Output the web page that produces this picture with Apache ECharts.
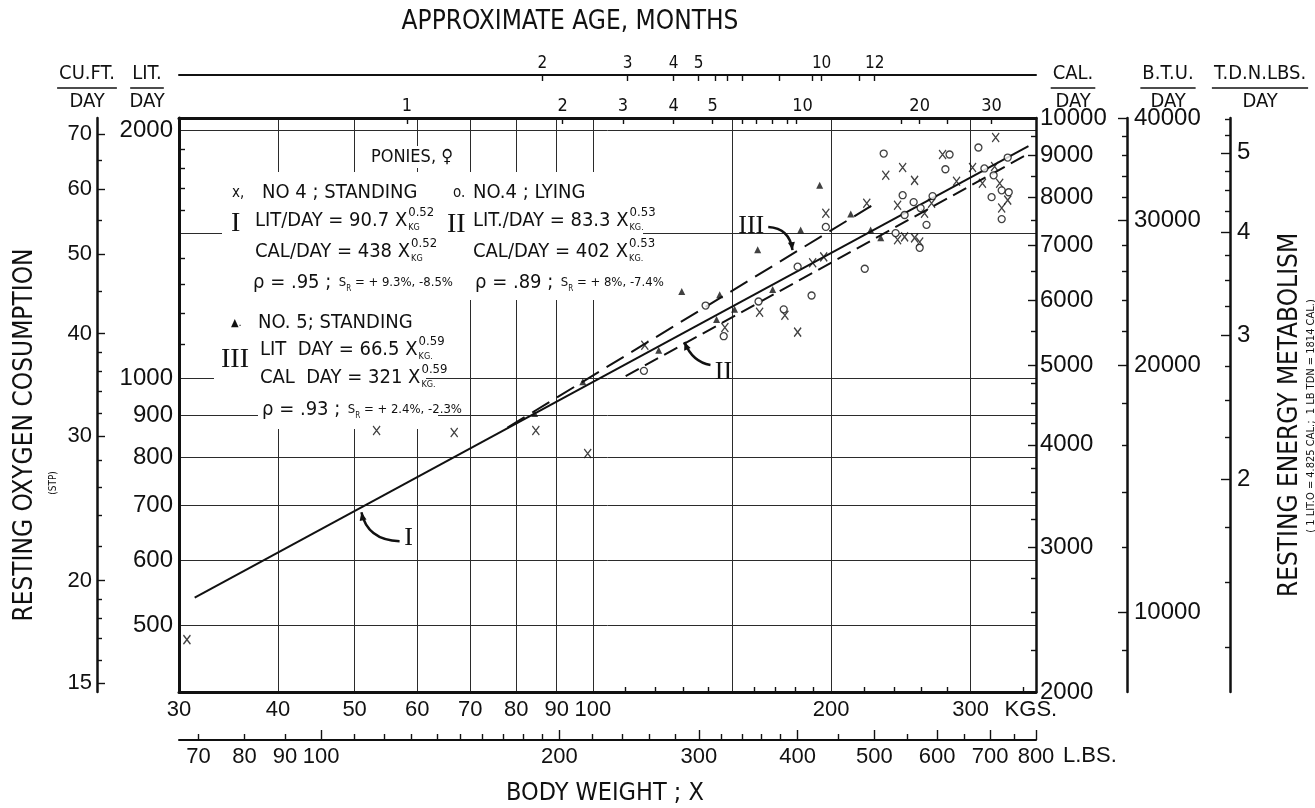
<!DOCTYPE html>
<html>
<head>
<meta charset="utf-8">
<title>Resting oxygen consumption of ponies</title>
<script src="https://cdn.jsdelivr.net/npm/echarts@6/dist/echarts.min.js"></script>
<style>
  html, body { margin: 0; padding: 0; background: #fff; }
  #main { width: 1315px; height: 808px; }
</style>
</head>
<body>
<div id="main"></div>
<script>
var chart = echarts.init(document.getElementById('main'));

var INK = '#111';
var FONT = '"Liberation Sans Narrow", "DejaVu Sans Condensed", "Liberation Sans", sans-serif';
var NUMFONT = '"Liberation Sans", "DejaVu Sans", sans-serif';
var SERIF = '"Liberation Serif", "DejaVu Serif", serif';

// ---- data: [body weight kg, litres O2 / day] ----
var no4Standing = [
  [30.7, 480], [53.3, 863], [66.8, 858], [84.7, 863], [98.5, 809], [116.3, 1096],
  [146.8, 1152], [162.4, 1202], [174.8, 1192], [181.4, 1137], [189.5, 1381], [195.7, 1404],
  [196.9, 1587], [221.8, 1632], [234.4, 1765], [242.6, 1473], [242.6, 1623], [246.2, 1804],
  [247.6, 1485], [254.9, 1740], [254.9, 1481], [258.7, 1464], [262.4, 1587], [267.8, 1632],
  [276.5, 1871], [288.0, 1736], [301.7, 1804], [310.5, 1726], [321.7, 1809], [322.7, 1962],
  [326.5, 1726], [328.4, 1610], [334.2, 1646]
];
var no4Lying = [
  [116.0, 1020], [138.8, 1225], [146.3, 1124], [161.9, 1239], [174.2, 1212], [181.4, 1366],
  [188.9, 1260], [196.9, 1527], [220.5, 1358], [233.0, 1876], [241.2, 1501], [246.2, 1669],
  [247.6, 1579], [254.2, 1637], [258.7, 1440], [259.4, 1610], [263.9, 1536], [268.6, 1665],
  [278.8, 1795], [282.2, 1871], [306.9, 1908], [312.3, 1799], [318.9, 1660], [320.8, 1765],
  [328.4, 1692], [328.4, 1561], [334.2, 1855], [335.2, 1683]
];
var no5Standing = [
  [84.4, 905], [97.1, 989], [121.1, 1081], [129.5, 1274], [143.3, 1178], [144.6, 1263],
  [151.0, 1212], [161.5, 1432], [168.7, 1281], [183.0, 1514], [193.4, 1716], [211.7, 1583],
  [224.3, 1514], [231.0, 1481]
];
// fitted lines, end points
var lineI = [[31.4, 540], [355, 1915]];
var lineII = [[110, 1005], [355, 1875]];
var lineIII = [[78, 870], [226, 1625]];

// ---- axes ----
var kgRange = [30, 362.87];
var litRange = [414.5, 2072.5];
var kgGrid = [40, 50, 60, 70, 80, 90, 100, 150, 200, 300];
var kgLabels = [30, 40, 50, 60, 70, 80, 90, 100, 200, 300];
var kgMinor = [110, 120, 130, 140, 160, 170, 180, 190, 220, 240, 260, 280, 350];
var lbsRange = [66.14, 800];
var lbsMajor = [100, 200, 300, 400, 500, 600, 700, 800];
var lbsMinor = [70, 80, 90, 110, 120, 130, 140, 150, 160, 170, 180, 190, 220, 240, 260, 280,
  320, 340, 360, 380, 450, 550, 650, 750];
var lbsLabels = [70, 80, 90, 100, 200, 300, 400, 500, 600, 700, 800];
var litGrid = [500, 600, 700, 800, 900, 1000, 1500, 2000];
var litLabels = [500, 600, 700, 800, 900, 1000, 2000];
var litMinor = [1100, 1200, 1300, 1400, 1600, 1700, 1800, 1900];
var cuRange = [14.638, 73.19];
var cuMajor = [15, 20, 30, 40, 50, 60, 70];
var cuMinor = [16, 17, 18, 19, 22, 24, 26, 28, 32, 34, 36, 38, 45, 55, 65];
var calRange = [2000, 10000];
var calMajor = [2000, 3000, 4000, 5000, 6000, 7000, 8000, 9000, 10000];
var calMinor = [2250, 2500, 2750, 3250, 3500, 3750, 4250, 4500, 4750, 5500, 6500, 7500, 8500, 9500];
var btuRange = [8000, 40000];
var btuMajor = [10000, 20000, 30000, 40000];
var btuMinor = [9000, 12000, 14000, 16000, 18000, 22000, 24000, 26000, 28000, 32000, 34000, 36000, 38000];
var tdnRange = [1.1025, 5.5127];
var tdnMajor = [2, 3, 4, 5];
var tdnMinor = [1.25, 1.5, 1.75, 2.25, 2.5, 2.75, 3.25, 3.5, 3.75, 4.25, 4.5, 4.75, 5.25, 5.5];
// approximate age scales, placed at body weight (kg)
var upperAgeTickKg = [86.3, 110.6, 126.5, 136.0, 142.6, 148.0, 154.6, 172.2, 189.5, 194.5, 217.2, 227.0];
var upperAgeLabelKg = [86.3, 110.6, 126.5, 136.0, 194.5, 227.0];
var upperAgeLabels = ['2', '3', '4', '5', '10', '12'];
var lowerAgeTickKg = [58.2, 91.6, 109.1, 126.5, 141.7, 154.2, 161.0, 168.7, 176.2, 180.9, 245.5, 258.7, 280.6, 318.9];
var lowerAgeLabelKg = [58.2, 91.6, 109.1, 126.5, 141.7, 184.0, 258.7, 318.9];
var lowerAgeLabels = ['1', '2', '3', '4', '5', '10', '20', '30'];

function lookup(keys, names) {
  return function (v) {
    for (var i = 0; i < keys.length; i++) {
      if (Math.abs(v - keys[i]) < 0.05) return names[i];
    }
    return '';
  };
}
function plain(v) { return String(Math.round(v * 100) / 100); }

function logAxis(o) {
  return {
    type: 'log', logBase: 10, min: o.range[0], max: o.range[1],
    position: o.pos, offset: o.offset || 0,
    axisLine: {show: !!o.lw, onZero: false, lineStyle: {color: INK, width: o.lw || 1}},
    axisTick: {show: !!o.len, inside: true, length: o.len || 0, customValues: o.ticks,
      lineStyle: {color: INK, width: 1.4}},
    splitLine: {show: !!o.split, lineStyle: {color: '#2b2b2b', width: 1}},
    minorTick: {show: false}, minorSplitLine: {show: false},
    axisLabel: {show: !!o.labels, customValues: o.labels, margin: o.margin || 6,
      fontFamily: o.font || NUMFONT, fontSize: o.fs || 22, color: INK,
      formatter: o.fmt || plain},
    axisPointer: {show: false}, silent: true
  };
}

var option = {
  animation: false,
  backgroundColor: '#fff',
  grid: {left: 179, right: 279, top: 118, bottom: 116, containLabel: false},
  xAxis: [
    logAxis({range: kgRange, pos: 'bottom', lw: 3, ticks: kgGrid, split: true, labels: kgLabels, margin: 7, fs: 22}),
    logAxis({range: kgRange, pos: 'bottom', ticks: kgMinor, len: 5}),
    logAxis({range: lbsRange, pos: 'bottom', offset: 48, lw: 2, ticks: lbsMajor, len: 10, labels: lbsLabels, margin: 6, fs: 22}),
    logAxis({range: lbsRange, pos: 'bottom', offset: 48, ticks: lbsMinor, len: 6}),
    logAxis({range: kgRange, pos: 'top', lw: 3, ticks: lowerAgeTickKg, len: 6, labels: lowerAgeLabelKg,
      fmt: lookup(lowerAgeLabelKg, lowerAgeLabels), margin: 3, fs: 18, font: FONT}),
    logAxis({range: kgRange, pos: 'top', offset: 43, lw: 2, ticks: upperAgeTickKg, len: 6, labels: upperAgeLabelKg,
      fmt: lookup(upperAgeLabelKg, upperAgeLabels), margin: 3, fs: 17, font: FONT})
  ],
  yAxis: [
    logAxis({range: litRange, pos: 'left', lw: 3, ticks: litGrid, split: true, labels: litLabels, margin: 6, fs: 24}),
    logAxis({range: litRange, pos: 'left', ticks: litMinor, len: 6}),
    logAxis({range: cuRange, pos: 'left', offset: 82, lw: 2.5, ticks: cuMajor, len: 8, labels: cuMajor, margin: 5, fs: 22}),
    logAxis({range: cuRange, pos: 'left', offset: 82, ticks: cuMinor, len: 5}),
    logAxis({range: calRange, pos: 'right', lw: 2.5, ticks: calMajor, len: 8, labels: calMajor, margin: 4, fs: 24}),
    logAxis({range: calRange, pos: 'right', ticks: calMinor, len: 5}),
    logAxis({range: btuRange, pos: 'right', offset: 91, lw: 2.5, ticks: btuMajor, len: 9, labels: btuMajor, margin: 7, fs: 24}),
    logAxis({range: btuRange, pos: 'right', offset: 91, ticks: btuMinor, len: 5}),
    logAxis({range: tdnRange, pos: 'right', offset: 194, lw: 2.5, ticks: tdnMajor, len: 9, labels: tdnMajor, margin: 7, fs: 24}),
    logAxis({range: tdnRange, pos: 'right', offset: 194, ticks: tdnMinor, len: 5})
  ],
  series: [
    {name: 'I', type: 'line', data: lineI, showSymbol: false, z: 20, silent: true,
      lineStyle: {color: INK, width: 2}},
    {name: 'II', type: 'line', data: lineII, showSymbol: false, z: 20, silent: true,
      lineStyle: {color: INK, width: 2, type: [15, 7]}},
    {name: 'III', type: 'line', data: lineIII, showSymbol: false, z: 20, silent: true,
      lineStyle: {color: INK, width: 2, type: [20, 9]}},
    {name: 'NO 4, standing', type: 'scatter', data: no4Standing, z: 21, silent: true,
      symbol: 'path://M0,0L8,10M8,0L0,10', symbolSize: [7, 9],
      itemStyle: {color: 'transparent', borderColor: INK, borderWidth: 1.4}},
    {name: 'NO 4, lying', type: 'scatter', data: no4Lying, z: 21, silent: true,
      symbol: 'circle', symbolSize: 7,
      itemStyle: {color: '#fff', borderColor: INK, borderWidth: 1.3}},
    {name: 'NO 5, standing', type: 'scatter', data: no5Standing, z: 21, silent: true,
      symbol: 'triangle', symbolSize: 7, itemStyle: {color: INK}}
  ]
};
chart.setOption(option);

// ---- text, legend and call-outs ----
var ctx = document.createElement('canvas').getContext('2d');
function textWidth(s, size, fam) { ctx.font = size + 'px ' + fam; return ctx.measureText(s).width; }
function px(pt) { return chart.convertToPixel({xAxisIndex: 0, yAxisIndex: 0}, pt); }

var g = [];
function txt(x, y, s, size, opt) {
  opt = opt || {};
  g.push({type: 'text', x: x, y: y, z: 30, rotation: opt.rot || 0, silent: true,
    style: {text: s, fontSize: size, fontFamily: opt.fam || FONT, fill: INK,
      align: opt.align || 'left', verticalAlign: 'middle', rich: opt.rich}});
}
function box(x, y, w, h) {
  g.push({type: 'rect', z: 15, silent: true, shape: {x: x, y: y, width: w, height: h}, style: {fill: '#fff'}});
}
function hline(x1, x2, y, w) {
  g.push({type: 'line', z: 30, silent: true, shape: {x1: x1, y1: y, x2: x2, y2: y}, style: {stroke: INK, lineWidth: w || 1.5}});
}
function formula(x, y, main, sup, sub) {
  var w = textWidth(main, 20, FONT);
  txt(x, y, main, 20);
  txt(x + w + 1, y - 8, sup, 13);
  txt(x + w + 1, y + 7, sub, 9);
}
function rho(x, y, a, b) {
  txt(x, y, '{a|ρ = ' + a + ' ;}{b|  S}{s|R}{b| = ' + b + '}', 20, {rich: {
    a: {fontSize: 20, fontFamily: FONT},
    b: {fontSize: 13, fontFamily: FONT},
    s: {fontSize: 8, fontFamily: FONT, verticalAlign: 'bottom', padding: [6, 0, 0, 0]}
  }});
}

// white patches behind legend text (grid lines stop there)
box(222, 172, 421, 128);
box(214, 300, 212, 98);
box(258, 398, 180, 31);
box(372, 146, 82, 22);

txt(412, 157, 'PONIES, ♀', 18, {align: 'center'});
txt(232, 193, 'x,', 15);
txt(262, 193, 'NO 4 ; STANDING', 20);
txt(453, 193, 'o.', 15);
txt(473, 193, 'NO.4 ; LYING', 20);
txt(231, 224, 'I', 28, {fam: SERIF});
formula(255, 221, 'LIT/DAY = 90.7 X', '0.52', 'KG');
txt(447, 225, 'II', 28, {fam: SERIF});
formula(473, 221, 'LIT./DAY = 83.3 X', '0.53', 'KG.');
formula(255, 252, 'CAL/DAY = 438 X', '0.52', 'KG');
formula(473, 252, 'CAL/DAY = 402 X', '0.53', 'KG.');
rho(253, 283, '.95', '+ 9.3%, -8.5%');
rho(475, 283, '.89', '+ 8%, -7.4%');
txt(231, 323, '▲.', 11);
txt(258, 323, 'NO. 5; STANDING', 20);
txt(221, 360, 'III', 28, {fam: SERIF});
formula(260, 350, 'LIT  DAY = 66.5 X', '0.59', 'KG.');
formula(260, 378, 'CAL  DAY = 321 X', '0.59', 'KG.');
rho(262, 410, '.93', '+ 2.4%, -2.3%');

// titles
txt(570, 22, 'APPROXIMATE AGE, MONTHS', 26, {align: 'center'});
txt(605, 793, 'BODY WEIGHT ; X', 25, {align: 'center'});
txt(25, 435, 'RESTING OXYGEN COSUMPTION', 26, {align: 'center', rot: Math.PI / 2});
txt(53, 483, '(STP)', 10, {align: 'center', rot: Math.PI / 2});
txt(1290, 415, 'RESTING ENERGY METABOLISM', 26, {align: 'center', rot: Math.PI / 2});
txt(1311, 416, '( 1 LIT.O = 4.825 CAL.;  1 LB TDN = 1814 CAL.)', 11, {align: 'center', rot: Math.PI / 2});

// unit headers as fractions
[['CU.FT.', 87], ['LIT.', 147], ['CAL.', 1073], ['B.T.U.', 1168], ['T.D.N.LBS.', 1260]].forEach(function (h) {
  var w = textWidth(h[0], 20, FONT);
  txt(h[1], 74, h[0], 20, {align: 'center'});
  hline(h[1] - w / 2 - 2, h[1] + w / 2 + 2, 88, 1.6);
  txt(h[1], 102, 'DAY', 20, {align: 'center'});
});

// unit words after the last axis labels
txt(px([300, 1000])[0] + 34, 710, 'KGS.', 22, {fam: NUMFONT});
txt(px([kgRange[1], 1000])[0] + 27, 756, 'L.BS.', 22, {fam: NUMFONT});

// call-outs for the fitted lines: label, tip on line, start offset, control offset
var notes = [
  {label: 'I', at: [58.5, 638], tip: [51.0, 686], start: [-9, 3], ctrl: [6, 28]},
  {label: 'II', at: [146.2, 1017], tip: [130.5, 1106], start: [-13, -7], ctrl: [8, 20]},
  {label: 'III', at: [158.5, 1531], tip: [178.7, 1431], start: [17, 1], ctrl: [-3, -22]}
];
notes.forEach(function (n) {
  var L = px(n.at), T = px(n.tip);
  txt(L[0], L[1], n.label, 26, {align: 'center', fam: SERIF});
  var s = [L[0] + n.start[0], L[1] + n.start[1]];
  var c = [T[0] + n.ctrl[0], T[1] + n.ctrl[1]];
  g.push({type: 'bezierCurve', z: 30, silent: true,
    shape: {x1: s[0], y1: s[1], x2: T[0], y2: T[1], cpx1: c[0], cpy1: c[1]},
    style: {stroke: INK, lineWidth: 2.5, fill: null}});
  var dx = T[0] - c[0], dy = T[1] - c[1], d = Math.sqrt(dx * dx + dy * dy);
  dx /= d; dy /= d;
  var bx = T[0] - dx * 8, by = T[1] - dy * 8;
  g.push({type: 'polygon', z: 30, silent: true,
    shape: {points: [[T[0], T[1]], [bx - dy * 3.5, by + dx * 3.5], [bx + dy * 3.5, by - dx * 3.5]]},
    style: {fill: INK}});
});

chart.setOption({graphic: g});
</script>
</body>
</html>
